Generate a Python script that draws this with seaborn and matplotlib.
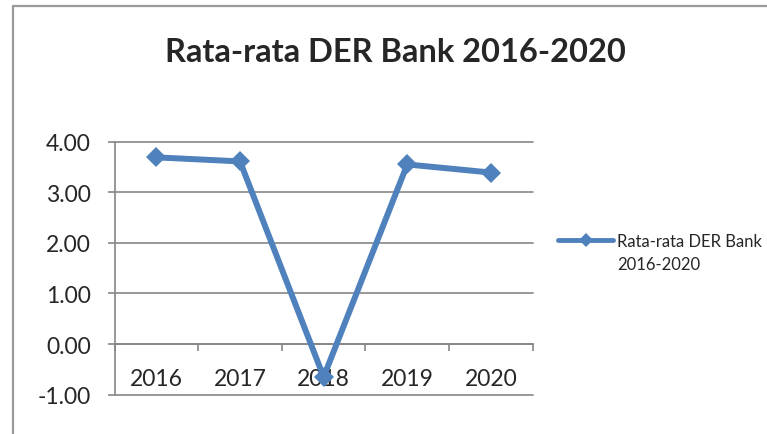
import numpy as np
import pandas as pd
import matplotlib
matplotlib.use("Agg")
import matplotlib.pyplot as plt
from matplotlib.lines import Line2D
import seaborn as sns

# ---- data ----
years = ["2016", "2017", "2018", "2019", "2020"]
der_values = [3.69, 3.61, -0.65, 3.55, 3.39]
y_ticks = [-1, 0, 1, 2, 3, 4]
title = "Rata-rata DER Bank 2016-2020"
series_label_lines = ["Rata-rata DER Bank", "2016-2020"]

sns.set_style("white")
plt.rcParams["font.family"] = ["Lato", "DejaVu Sans"]

LINE_COLOR = "#4F81BD"
GRID_COLOR = "#868686"

df = pd.DataFrame({"pos": np.arange(len(years)), "der": der_values, "year": years})

fig = plt.figure(figsize=(7.67, 4.35), dpi=100)
ax = fig.add_axes([0.1494, 0.0904, 0.5451, 0.5816])

sns.lineplot(data=df, x="pos", y="der", ax=ax, color=LINE_COLOR, lw=4.3,
             marker="D", markersize=10, markeredgewidth=0,
             markeredgecolor=LINE_COLOR, legend=False, zorder=5)

ax.set_xlim(-0.5, len(years) - 0.5)
ax.set_ylim(min(y_ticks), max(y_ticks))
ax.set_xlabel("")
ax.set_ylabel("")

# y axis
ax.set_yticks(y_ticks)
ax.set_yticklabels([f"{v:.2f}" for v in y_ticks])
ax.tick_params(axis="y", direction="out", length=5, width=1.2, color=GRID_COLOR,
               pad=12, labelsize=16.5, left=True)
ax.yaxis.grid(True, color=GRID_COLOR, lw=1.2)
ax.xaxis.grid(False)
for gl in ax.get_ygridlines():
    gl.set_clip_on(False)

# x axis at y = 0
ax.spines["bottom"].set_position(("data", 0))
ax.spines["bottom"].set_color(GRID_COLOR)
ax.spines["bottom"].set_linewidth(1.2)
ax.spines["left"].set_color(GRID_COLOR)
ax.spines["left"].set_linewidth(1.2)
ax.spines["top"].set_visible(False)
ax.spines["right"].set_visible(False)

ax.set_xticks(np.arange(-0.5, len(years)), labels=[""] * (len(years) + 1))
ax.set_xticks(np.arange(len(years)), labels=years, minor=True)
ax.tick_params(axis="x", which="major", direction="out", length=5, width=1.2,
               color=GRID_COLOR, bottom=True)
ax.tick_params(axis="x", which="minor", length=0, pad=17.5, labelsize=16.5)

# legend (first line carries the handle, second line continues the label)
handle = Line2D([], [], color=LINE_COLOR, lw=3.5, marker="D", markersize=7,
                markeredgewidth=0)
blank = Line2D([], [], lw=0, marker=None)
ax.legend([handle, blank], series_label_lines, loc="upper left",
          bbox_to_anchor=(558 / 767, 1 - 234 / 435), bbox_transform=fig.transFigure,
          frameon=False, fontsize=12, handlelength=3.3, handletextpad=0.24,
          labelspacing=0.45, borderpad=0, borderaxespad=0)

# title
fig.text(395 / 767, 1 - 53 / 435, title, ha="center", va="center",
         fontsize=23.5, fontweight="bold")

# chart area border (partially visible)
fig.add_artist(Line2D([12.7 / 767, 12.7 / 767], [0, 1 - 7 / 435],
                      transform=fig.transFigure, color="#9a9a9a", lw=1.6))
fig.add_artist(Line2D([12.7 / 767, 1], [1 - 7 / 435, 1 - 7 / 435],
                      transform=fig.transFigure, color="#9a9a9a", lw=1.6))

fig.savefig("out.png", dpi=100)
